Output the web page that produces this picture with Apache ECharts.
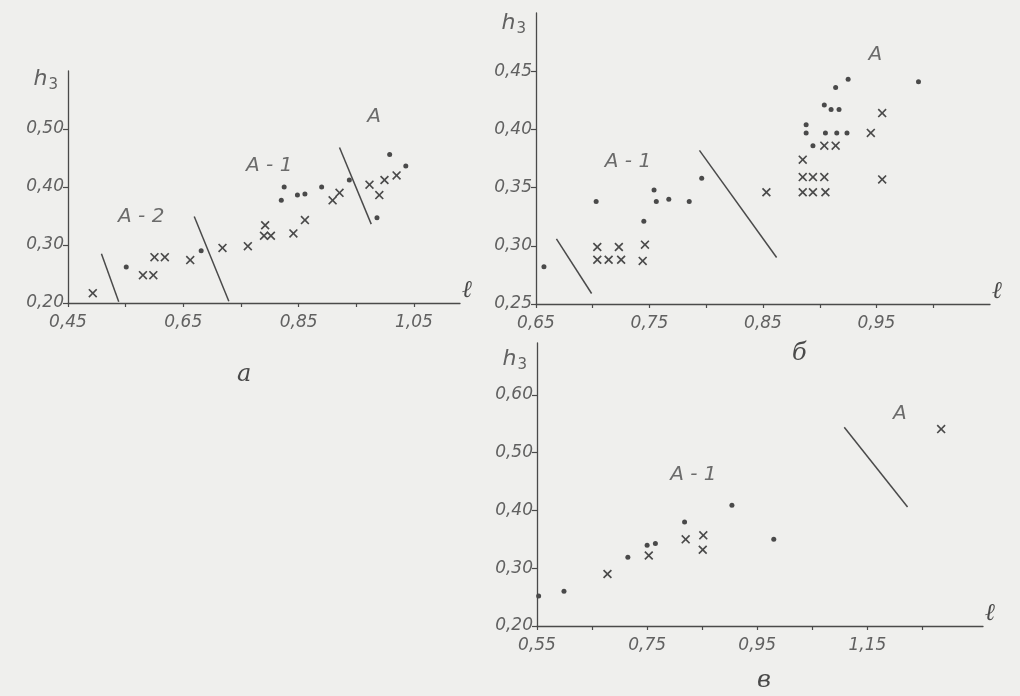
<!DOCTYPE html>
<html>
<head>
<meta charset="utf-8">
<script src="https://cdn.jsdelivr.net/npm/echarts@6/dist/echarts.min.js"></script>
<style>
html,body{margin:0;padding:0;background:#efefed;}
#chart{width:1020px;height:696px;}
</style>
</head>
<body>
<div id="chart"></div>
<script>
// ---------- Panel а ----------
const dotsA = [[0.551,0.262],[0.681,0.290],[0.825,0.400],[0.820,0.377],[0.848,0.386],[0.861,0.388],[0.890,0.400],[0.938,0.412],[1.008,0.456],[1.036,0.436],[0.986,0.347]];
const crossesA = [[0.493,0.217],[0.580,0.248],[0.598,0.248],[0.600,0.279],[0.618,0.279],[0.662,0.274],[0.718,0.295],[0.762,0.298],[0.792,0.334],[0.790,0.316],[0.802,0.316],[0.841,0.320],[0.861,0.343],[0.909,0.377],[0.921,0.390],[0.973,0.404],[0.990,0.386],[0.999,0.412],[1.020,0.420]];
const linesA = [[[0.508,0.285],[0.538,0.202]],[[0.669,0.349],[0.729,0.203]],[[0.921,0.468],[0.976,0.336]]];
const notesA = [[0.577,0.349,'A - 2'],[0.799,0.436,'A - 1'],[0.981,0.521,'A']];
const xTicksA = [0.45,0.55,0.65,0.75,0.85,0.95,1.05];
const xLabelsA = [0.45,0.65,0.85,1.05];
const yTicksA = [0.20,0.30,0.40,0.50];

// ---------- Panel б ----------
const dotsB = [[0.657,0.282],[0.703,0.338],[0.745,0.321],[0.754,0.348],[0.756,0.338],[0.767,0.340],[0.785,0.338],[0.796,0.358],[0.888,0.397],[0.888,0.404],[0.894,0.386],[0.905,0.397],[0.915,0.397],[0.924,0.397],[0.904,0.421],[0.910,0.417],[0.917,0.417],[0.914,0.436],[0.925,0.443],[0.987,0.441]];
const crossesB = [[0.704,0.299],[0.723,0.299],[0.746,0.301],[0.704,0.288],[0.714,0.288],[0.725,0.288],[0.744,0.287],[0.853,0.346],[0.885,0.374],[0.885,0.359],[0.894,0.359],[0.904,0.359],[0.885,0.346],[0.894,0.346],[0.905,0.346],[0.904,0.386],[0.914,0.386],[0.945,0.397],[0.955,0.414],[0.955,0.357]];
const linesB = [[[0.668,0.306],[0.699,0.259]],[[0.794,0.382],[0.862,0.290]]];
const notesB = [[0.731,0.372,'A - 1'],[0.949,0.464,'A']];
const xTicksB = [0.65,0.70,0.75,0.80,0.85,0.90,0.95,1.00];
const xLabelsB = [0.65,0.75,0.85,0.95];
const yTicksB = [0.25,0.30,0.35,0.40,0.45];

// ---------- Panel в ----------
const dotsC = [[0.553,0.252],[0.599,0.260],[0.715,0.319],[0.750,0.340],[0.765,0.343],[0.818,0.380],[0.904,0.409],[0.980,0.350]];
const crossesC = [[0.678,0.290],[0.753,0.322],[0.820,0.350],[0.852,0.357],[0.851,0.332],[1.284,0.541]];
const linesC = [[[1.108,0.544],[1.223,0.406]]];
const notesC = [[0.834,0.461,'A - 1'],[1.209,0.567,'A']];
const xTicksC = [0.55,0.65,0.75,0.85,0.95,1.05,1.15,1.25];
const xLabelsC = [0.55,0.75,0.95,1.15];
const yTicksC = [0.20,0.30,0.40,0.50,0.60];

const INK = '#4a4a4a';
const LABEL = '#616161';
const FONT = 'DejaVu Sans';
const CROSS = 'path://M0,1.3L1.3,0L5,3.7L8.7,0L10,1.3L6.3,5L10,8.7L8.7,10L5,6.3L1.3,10L0,8.7L3.7,5Z';
const fmt = v => v.toFixed(2).replace('.', ',');

function xAxis(idx, min, max, ticks, labels) {
  return {
    type: 'value', gridIndex: idx, min: min, max: max,
    name: 'ℓ', nameLocation: 'end', nameGap: 2,
    nameTextStyle: {fontFamily: 'DejaVu Serif', fontStyle: 'italic', fontSize: 24, color: INK, verticalAlign: 'bottom'},
    splitLine: {show: false},
    axisLine: {lineStyle: {color: INK, width: 1.3}},
    axisTick: {customValues: ticks, length: 4, inside: false, lineStyle: {color: INK, width: 1.2}},
    axisLabel: {customValues: labels, formatter: fmt, fontFamily: FONT, fontStyle: 'italic', fontSize: 17, color: LABEL, margin: 11}
  };
}
function yAxis(idx, min, max, ticks, gap) {
  return {
    type: 'value', gridIndex: idx, min: min, max: max,
    name: '{h|h}{s|3}', nameLocation: 'end', nameGap: gap,
    nameTextStyle: {align: 'right', verticalAlign: 'middle', padding: [0,10,0,0],
      rich: {h: {fontFamily: FONT, fontStyle: 'italic', fontSize: 22, color: LABEL}, s: {fontFamily: FONT, fontSize: 15, color: LABEL, padding: [12,0,0,1]}}},
    splitLine: {show: false},
    axisLine: {onZero: false, lineStyle: {color: INK, width: 1.3}},
    axisTick: {customValues: ticks, length: 5, lineStyle: {color: INK, width: 1.2}},
    axisLabel: {customValues: ticks, formatter: fmt, fontFamily: FONT, fontStyle: 'italic', fontSize: 17, color: LABEL, margin: 4}
  };
}

const series = [];
function addPanel(idx, dots, crosses, lines, notes) {
  series.push({type: 'scatter', xAxisIndex: idx, yAxisIndex: idx, data: dots, symbol: 'circle', symbolSize: 5, itemStyle: {color: INK, opacity: 1}, silent: true});
  series.push({type: 'scatter', xAxisIndex: idx, yAxisIndex: idx, data: crosses, symbol: CROSS, symbolSize: 9, itemStyle: {color: INK, opacity: 1}, silent: true});
  lines.forEach(seg => series.push({type: 'line', xAxisIndex: idx, yAxisIndex: idx, data: seg, symbol: 'none', lineStyle: {color: INK, width: 1.5}, silent: true}));
  series.push({type: 'scatter', xAxisIndex: idx, yAxisIndex: idx, data: notes, symbolSize: 0, silent: true,
    label: {show: true, position: 'inside', formatter: p => p.data[2], fontFamily: FONT, fontStyle: 'italic', fontSize: 20, color: INK}});
}
addPanel(0, dotsA, crossesA, linesA, notesA);
addPanel(1, dotsB, crossesB, linesB, notesB);
addPanel(2, dotsC, crossesC, linesC, notesC);

const chart = echarts.init(document.getElementById('chart'), null, {renderer: 'canvas'});
chart.setOption({
  backgroundColor: '#efefed',
  animation: false,
  grid: [
    {left: 68, top: 71, width: 392, height: 232},
    {left: 536, top: 13, width: 454, height: 291},
    {left: 537, top: 343, width: 446, height: 283}
  ],
  xAxis: [xAxis(0, 0.45, 1.13, xTicksA, xLabelsA), xAxis(1, 0.65, 1.05, xTicksB, xLabelsB), xAxis(2, 0.55, 1.36, xTicksC, xLabelsC)],
  yAxis: [yAxis(0, 0.20, 0.60, yTicksA, -8), yAxis(1, 0.25, 0.50, yTicksB, -10), yAxis(2, 0.20, 0.69, yTicksC, -16)],
  graphic: [
    {type: 'text', left: 237, top: 363, style: {text: 'а', fontFamily: 'DejaVu Serif', fontStyle: 'italic', fontSize: 24, fill: INK}},
    {type: 'text', left: 792, top: 342, style: {text: 'б', fontFamily: 'DejaVu Serif', fontStyle: 'italic', fontSize: 24, fill: INK}},
    {type: 'text', left: 757, top: 669, style: {text: 'в', fontFamily: 'DejaVu Serif', fontStyle: 'italic', fontSize: 24, fill: INK}}
  ],
  series: series
});
</script>
</body>
</html>
